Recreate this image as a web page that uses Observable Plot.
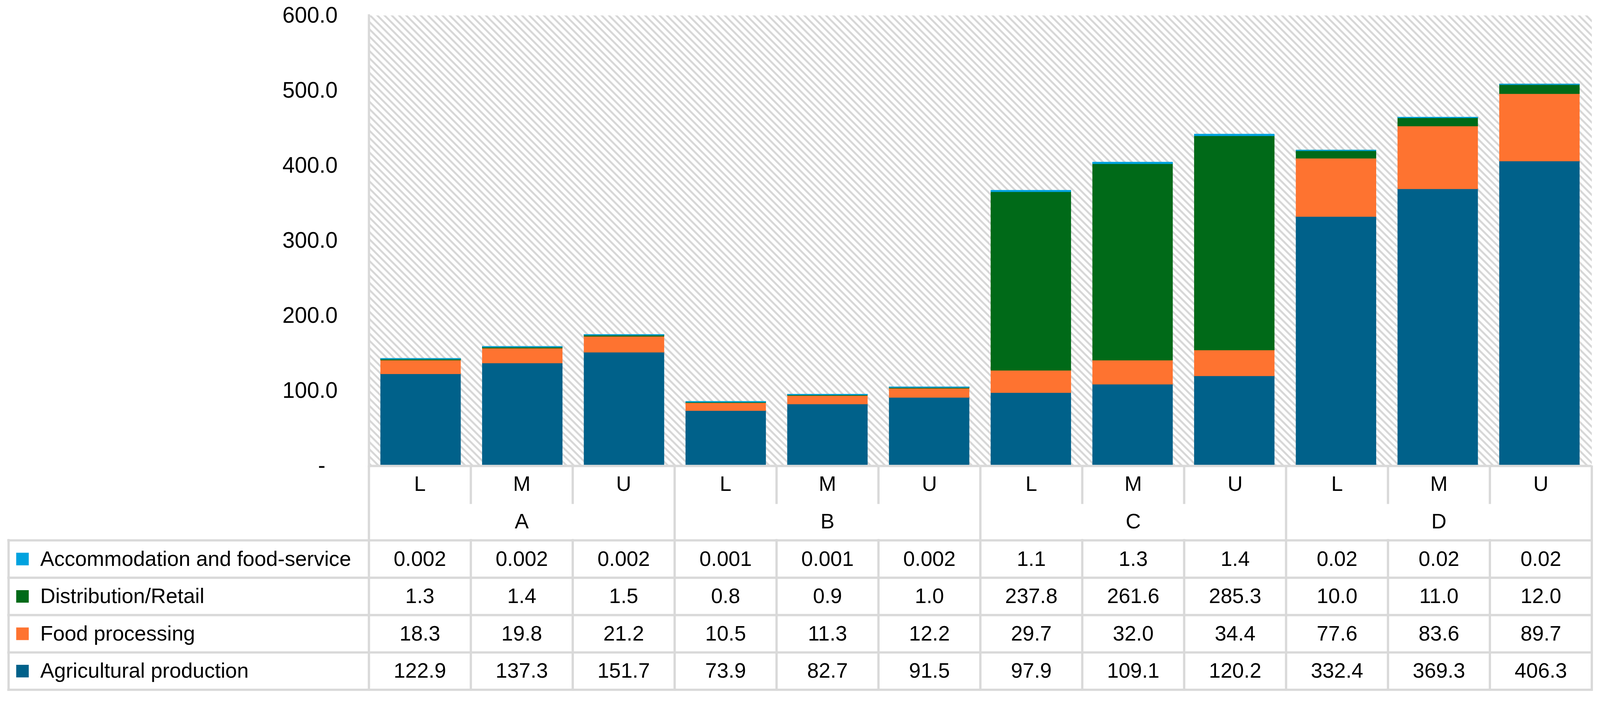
<!DOCTYPE html>
<html>
<head>
<meta charset="utf-8">
<script src="https://cdn.jsdelivr.net/npm/d3@7"></script>
<script src="https://cdn.jsdelivr.net/npm/@observablehq/plot@0.6"></script>
<style>
  html, body { margin: 0; padding: 0; background: #fff; }
  #chart svg, #table svg { display: block; }
  #table { margin-top: -40px; position: relative; }
</style>
</head>
<body>
<div id="chart"></div>
<div id="table"></div>
<script>
// ---------------- data ----------------
const groups = ["A", "B", "C", "D"];
const levels = ["L", "M", "U"];
const seriesNames = [
  "Accommodation and food-service",
  "Distribution/Retail",
  "Food processing",
  "Agricultural production"
];
const accommodation  = [0.002, 0.002, 0.002, 0.001, 0.001, 0.002, 1.1, 1.3, 1.4, 0.02, 0.02, 0.02];
const distribution   = [1.3, 1.4, 1.5, 0.8, 0.9, 1.0, 237.8, 261.6, 285.3, 10.0, 11.0, 12.0];
const foodProcessing = [18.3, 19.8, 21.2, 10.5, 11.3, 12.2, 29.7, 32.0, 34.4, 77.6, 83.6, 89.7];
const agricultural   = [122.9, 137.3, 151.7, 73.9, 82.7, 91.5, 97.9, 109.1, 120.2, 332.4, 369.3, 406.3];
const seriesColors = ["#00A2DF", "#006A18", "#FE7330", "#00618A"];
const yTicks = [0, 100, 200, 300, 400, 500, 600];

// ---------------- derived tables ----------------
const seriesValues = [accommodation, distribution, foodProcessing, agricultural];
const columns = groups.flatMap(g => levels.map(l => ({key: `${g}-${l}`, group: g, level: l})));
const keys = columns.map(c => c.key);

// stacking: bottom series first (reverse of table order)
const bars = [];
[3, 2, 1, 0].forEach(s => {
  columns.forEach((c, i) => bars.push({key: c.key, series: seriesNames[s], value: seriesValues[s][i]}));
});

const fmt = v => v < 0.01 ? v.toFixed(3) : v < 0.1 ? v.toFixed(2) : v.toFixed(1);
const cells = [];
seriesNames.forEach((name, r) => {
  seriesValues[r].forEach((v, i) => cells.push({col: i, row: r, text: fmt(v)}));
});

const font = "'Liberation Sans', Arial, sans-serif";
const gridColor = "#d9d9d9";

// ---------------- chart ----------------
const chart = Plot.plot({
  width: 4200,
  height: 1262,
  marginLeft: 968,
  marginRight: 22,
  marginTop: 40,
  marginBottom: 40,
  style: {fontFamily: font, fontSize: "58px", color: "#000", background: "#fff"},
  x: {type: "band", domain: keys, paddingInner: 0.22, paddingOuter: 0.11, axis: null},
  y: {domain: [0, 600], axis: null},
  color: {domain: seriesNames, range: seriesColors},
  marks: [
    Plot.frame({fill: "url(#hatch)", stroke: "none"}),
    Plot.barY(bars, {x: "key", y: "value", fill: "series", stroke: "series", strokeWidth: 3}),
    Plot.frame({anchor: "left", stroke: gridColor, strokeWidth: 6}),
    Plot.ruleY([0], {stroke: gridColor, strokeWidth: 6}),
    Plot.axisY({
      ticks: yTicks,
      tickSize: 0,
      tickPadding: 82,
      label: null,
      fill: "#000",
      tickFormat: d => d === 0 ? "-\u2007" : d.toFixed(1)
    })
  ]
});
d3.select(chart).insert("defs", ":first-child").html(
  `<pattern id="hatch" patternUnits="userSpaceOnUse" width="19" height="19">
     <rect width="19" height="19" fill="#ffffff"/>
     <path d="M-5,-5 L24,24 M-5,14 L5,24 M14,-5 L24,5" stroke="#d6d6d6" stroke-width="5"/>
   </pattern>`
);
document.getElementById("chart").appendChild(chart);

// ---------------- data table (x axis + values + legend) ----------------
const legendWidth = 3.536; // width of the legend column, in data-column units
const nCols = keys.length;
const groupEdges = d3.range(0, nCols + 1, levels.length);
const innerEdges = d3.range(1, nCols).filter(i => i % levels.length !== 0);
const ruleStyle = {stroke: gridColor, strokeWidth: 6, strokeLinecap: "square"};

const table = Plot.plot({
  width: 4200,
  height: 610,
  marginLeft: 22,
  marginRight: 22,
  marginTop: 0,
  marginBottom: 22,
  style: {fontFamily: font, fontSize: "55px", color: "#000", background: "transparent"},
  x: {domain: [-legendWidth, nCols], axis: null},
  y: {domain: [0, 6], reverse: true, axis: null},
  color: {domain: seriesNames, range: seriesColors},
  marks: [
    // grid
    Plot.ruleX(groupEdges, {y1: 0, y2: 6, ...ruleStyle}),
    Plot.ruleX(innerEdges, {y1: 0, y2: 1, ...ruleStyle}),
    Plot.ruleX(innerEdges, {y1: 2, y2: 6, ...ruleStyle}),
    Plot.ruleX([-legendWidth], {y1: 2, y2: 6, ...ruleStyle}),
    Plot.ruleY(d3.range(2, 7), {x1: -legendWidth, x2: nCols, ...ruleStyle}),
    // category labels
    Plot.text(columns, {x: (d, i) => i + 0.5, y: () => 0.5, text: "level", fill: "#000"}),
    Plot.text(groups, {x: (d, i) => i * levels.length + levels.length / 2, y: () => 1.5, text: d => d, fill: "#000"}),
    // values
    Plot.text(cells, {x: d => d.col + 0.5, y: d => d.row + 2.5, text: "text", fill: "#000"}),
    // legend keys
    Plot.dot(seriesNames, {y: (d, i) => i + 2.5, frameAnchor: "left", dx: 36.5, symbol: "square", r: 18.6, fill: d => d}),
    Plot.text(seriesNames, {y: (d, i) => i + 2.5, frameAnchor: "left", dx: 83, textAnchor: "start", text: d => d, fill: "#000"})
  ]
});
document.getElementById("table").appendChild(table);
</script>
</body>
</html>
